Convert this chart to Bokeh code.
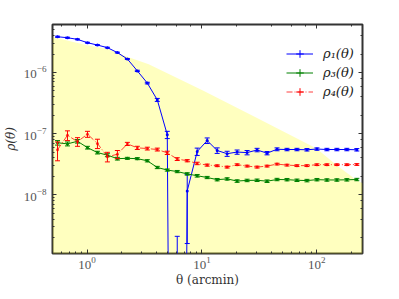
from bokeh.plotting import figure
from bokeh.models import (LogAxis, LogTicker, Range1d, Legend, LegendItem, CustomJSTickFormatter)
from bokeh.embed import file_html
from bokeh.resources import INLINE

# ---------------- data ----------------
theta = [0.553, 0.675, 0.825, 1.008, 1.231, 1.503, 1.836, 2.243, 2.739, 3.346,
         4.086, 4.991, 6.096, 7.446, 9.095, 11.11, 13.57, 16.57, 20.24, 24.72,
         30.20, 36.88, 45.05, 55.02, 67.20, 82.08, 100.3, 122.5, 149.6, 182.7, 223.1]

rho1 = [3.83e-6, 3.69e-6, 3.47e-6, 3.06e-6, 2.80e-6, 2.54e-6, 2.11e-6, 1.66e-6, 1.06e-6, 6.7e-7,
        3.56e-7, 9.6e-8, -5.0e-9, 1.16e-8, 5.1e-8, 7.7e-8, 5.3e-8, 4.7e-8, 5.0e-8, 4.9e-8,
        5.4e-8, 4.8e-8, 5.55e-8, 5.5e-8, 5.5e-8, 5.45e-8, 5.6e-8, 5.5e-8, 5.5e-8, 5.5e-8, 5.45e-8]
rho1_err = [8e-8, 7e-8, 6e-8, 5e-8, 4.5e-8, 4e-8, 3.5e-8, 3e-8, 2.5e-8, 2e-8,
            2e-8, 1.3e-8, 7.1e-9, 1.0e-8, 7e-9, 8e-9, 5.5e-9, 4.5e-9, 4e-9, 4e-9,
            3.5e-9, 3e-9, 3e-9, 2.5e-9, 2.5e-9, 2.5e-9, 2.5e-9, 2.5e-9, 2.5e-9, 2.5e-9, 2.5e-9]

rho3 = [7.1e-8, 6.8e-8, 7.5e-8, 5.9e-8, 4.9e-8, 4.45e-8, 3.9e-8, 3.95e-8, 3.9e-8, 3.6e-8,
        2.8e-8, 2.54e-8, 2.4e-8, 2.2e-8, 2.05e-8, 1.92e-8, 1.77e-8, 1.82e-8, 1.68e-8, 1.72e-8,
        1.73e-8, 1.67e-8, 1.78e-8, 1.77e-8, 1.73e-8, 1.71e-8, 1.77e-8, 1.75e-8, 1.75e-8, 1.76e-8, 1.78e-8]
rho3_err = [6e-9, 5e-9, 5e-9, 3e-9, 2.5e-9, 2.5e-9, 2e-9, 1.5e-9, 1.5e-9, 1.5e-9,
            1.2e-9, 1e-9, 1e-9, 1e-9, 1e-9, 8e-10, 8e-10, 8e-10, 8e-10, 8e-10,
            8e-10, 8e-10, 8e-10, 8e-10, 8e-10, 8e-10, 8e-10, 8e-10, 8e-10, 8e-10, 8e-10]

rho4 = [5.45e-8, 9.4e-8, 7.4e-8, 9.8e-8, 6.9e-8, 4.2e-8, 4.6e-8, 6.8e-8, 5.86e-8, 5.7e-8,
        5.5e-8, 4.86e-8, 3.84e-8, 3.61e-8, 3.26e-8, 3.06e-8, 2.99e-8, 2.84e-8, 3.11e-8, 2.95e-8,
        2.84e-8, 2.95e-8, 3.18e-8, 3.06e-8, 3.0e-8, 3.0e-8, 3.11e-8, 3.11e-8, 3.11e-8, 3.11e-8, 3.13e-8]
rho4_err = [1.85e-8, 1.7e-8, 1.2e-8, 1.1e-8, 1.2e-8, 7.5e-9, 7e-9, 4e-9, 3.5e-9, 3e-9,
            3e-9, 3e-9, 2e-9, 1.5e-9, 1.5e-9, 1.2e-9, 1e-9, 1e-9, 1e-9, 1e-9,
            1e-9, 1e-9, 1e-9, 1e-9, 1e-9, 1e-9, 1e-9, 1e-9, 1e-9, 1e-9, 1e-9]

# tolerance band (upper edge of the shaded region)
band_theta = [0.5, 1.0, 1.54, 2.3, 3.44, 10.3, 29.9, 99.5, 148, 221, 250]
band_upper = [3.8e-6, 2.77e-6, 2.39e-6, 1.77e-6, 1.36e-6, 5.03e-7, 1.82e-7, 5.7e-8, 3.06e-8, 1.75e-8, 1.55e-8]

labels = ["ρ₁(θ)", "ρ₃(θ)", "ρ₄(θ)"]
x_label = "θ (arcmin)"
y_label = "ρ(θ)"

FLOOR = 1e-30  # non-positive values are clipped like a log axis does


def clip(vals):
    return [v if v > 0 else FLOOR for v in vals]


TICK_FONT = "Liberation Serif"
LABEL_FONT = "DejaVu Serif"
GREY = "#555555"
FRAME = "#333333"

p = figure(frame_width=310, frame_height=229,
           x_axis_type="log", y_axis_type="log",
           x_range=Range1d(0.5, 250), y_range=Range1d(1.1e-9, 6.07e-6),
           output_backend="svg", toolbar_location=None,
           min_border_left=41, min_border_right=30, min_border_top=24, min_border_bottom=30)
p.background_fill_color = "white"
p.border_fill_color = "white"
p.outline_line_color = FRAME
p.outline_line_width = 2
p.outline_line_alpha = 1
p.xgrid.visible = False
p.ygrid.visible = False

# shaded region
p.varea(x=band_theta, y1=[1e-12] * len(band_theta), y2=band_upper,
        fill_color="yellow", fill_alpha=0.25)


def series(vals, errs, color, dash="solid", alpha=1.0):
    up = [v + e for v, e in zip(vals, errs)]
    lo = [v - e for v, e in zip(vals, errs)]
    p.segment(x0=theta, y0=clip(lo), x1=theta, y1=clip(up), line_color=color, line_width=1)
    p.scatter(x=theta + theta, y=clip(up) + clip(lo), marker="dash", size=5,
              line_color=color, line_width=1)
    ln = p.line(x=theta, y=clip(vals), line_color=color, line_width=1,
                line_dash=dash, line_alpha=alpha)
    p.scatter(x=theta, y=clip(vals), marker="circle", size=3,
              fill_color=color, line_color=None, fill_alpha=alpha)
    # legend-only marker (an error-bar cross), placed at the clipped floor so it is off the plot
    leg = p.scatter(x=theta, y=[FLOOR] * len(theta), marker="cross",
                    line_color=color, line_width=1)
    return ln, leg


l1, m1 = series(rho1, rho1_err, "blue")
l3, m3 = series(rho3, rho3_err, "green")
l4, m4 = series(rho4, rho4_err, "red", dash="6 2 1 2", alpha=0.75)

legend = Legend(items=[LegendItem(label=labels[0], renderers=[l1, m1]),
                       LegendItem(label=labels[1], renderers=[l3, m3]),
                       LegendItem(label=labels[2], renderers=[l4, m4])],
                location=(234, 152), border_line_color=None, background_fill_alpha=0,
                padding=0, margin=0, spacing=0, glyph_width=27, glyph_height=19,
                label_height=19, label_standoff=10,
                label_text_font=LABEL_FONT, label_text_font_style="italic",
                label_text_font_size="13px", label_text_color="#222222")
p.add_layout(legend)


def style_axis(ax):
    ax.axis_line_color = None
    ax.major_tick_in = 4
    ax.major_tick_out = 0
    ax.minor_tick_in = 2
    ax.minor_tick_out = 0
    ax.major_tick_line_color = FRAME
    ax.minor_tick_line_color = FRAME
    ax.major_label_text_font = TICK_FONT
    ax.major_label_text_font_size = "13px"
    ax.major_label_text_color = GREY


for ax in (p.xaxis[0], p.yaxis[0]):
    style_axis(ax)
    ax.axis_label_text_font = LABEL_FONT
    ax.axis_label_text_font_size = "12px"
    ax.axis_label_text_color = "#333333"

p.xaxis[0].axis_label = x_label
p.xaxis[0].axis_label_text_font_style = "normal"
p.xaxis[0].major_label_standoff = 3
p.xaxis[0].axis_label_standoff = 1
p.yaxis[0].axis_label = y_label
p.yaxis[0].axis_label_text_font_style = "italic"
p.yaxis[0].major_label_standoff = 6
p.yaxis[0].axis_label_standoff = 3

top = LogAxis(ticker=LogTicker(), formatter=CustomJSTickFormatter(code="return ''"),
              major_label_standoff=0)
right = LogAxis(ticker=LogTicker(), formatter=CustomJSTickFormatter(code="return ''"),
                major_label_standoff=0)
style_axis(top)
style_axis(right)
p.add_layout(top, "above")
p.add_layout(right, "right")

open("out.html", "w").write(file_html(p, INLINE))
